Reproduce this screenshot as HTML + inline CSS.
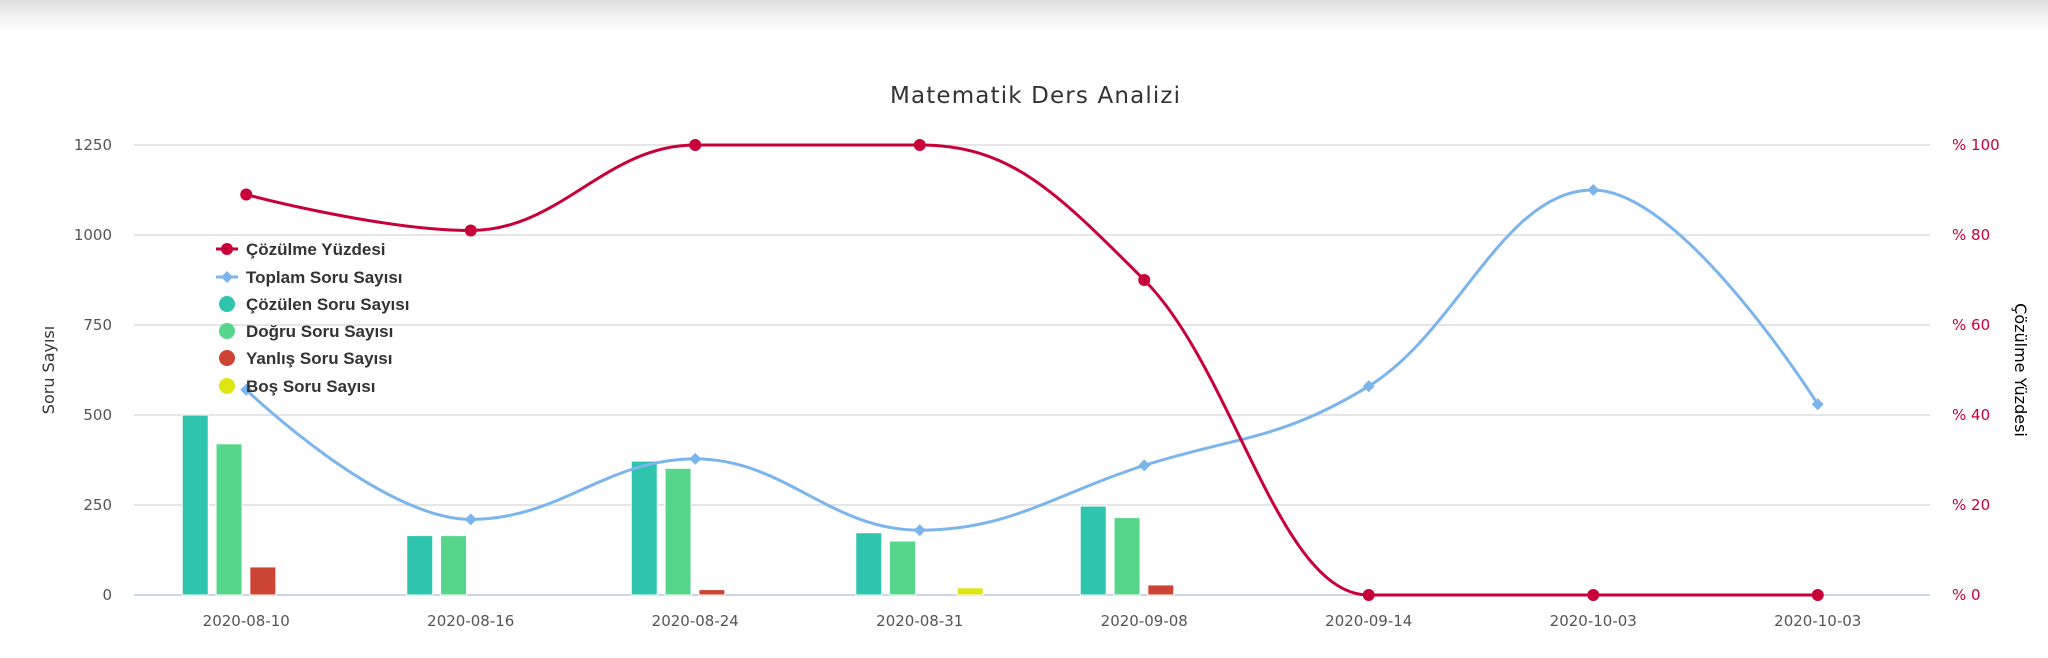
<!DOCTYPE html>
<html><head><meta charset="utf-8"><style>
html,body{margin:0;padding:0;background:#fff;width:2048px;height:658px;overflow:hidden}
.top{position:absolute;left:0;top:0;width:2048px;height:34px;background:linear-gradient(#dcdcdc,#f2f2f2 45%,#fff)}
svg{position:absolute;left:0;top:0}
text{font-family:"DejaVu Sans","Liberation Sans",sans-serif}
</style></head><body>
<div class="top"></div>
<svg id="s" width="2048" height="658" xmlns="http://www.w3.org/2000/svg">
<text x="1035" y="103" text-anchor="middle" font-size="23" fill="#333" textLength="290">Matematik Ders Analizi</text>
<g id="grid" stroke="#e6e6e6" stroke-width="2"></g>
<g id="lbl"></g>
<text transform="translate(54,370) rotate(-90)" text-anchor="middle" font-size="16" fill="#333">Soru Sayısı</text>
<text transform="translate(2015,370) rotate(90)" text-anchor="middle" font-size="16" fill="#000">Çözülme Yüzdesi</text>
<g id="bars"></g>
<path id="blue" fill="none" stroke="#7cb5ec" stroke-width="3"/>
<g id="bm"></g>
<path id="red" fill="none" stroke="#c8003a" stroke-width="3"/>
<g id="rm"></g>
<g font-size="17" font-weight="bold" fill="#333" style="font-family:'Liberation Sans',sans-serif">
<line x1="216" y1="249" x2="238" y2="249" stroke="#c8003a" stroke-width="3"/><circle cx="227" cy="249" r="6" fill="#c8003a"/>
<text x="246" y="255" style="font-family:'Liberation Sans',sans-serif">Çözülme Yüzdesi</text>
<line x1="216" y1="277" x2="238" y2="277" stroke="#7cb5ec" stroke-width="3"/><path d="M227 271L233 277L227 283L221 277Z" fill="#7cb5ec"/>
<text x="246" y="283" style="font-family:'Liberation Sans',sans-serif">Toplam Soru Sayısı</text>
<circle cx="227" cy="304" r="8" fill="#2ec4ad"/><text x="246" y="310" style="font-family:'Liberation Sans',sans-serif">Çözülen Soru Sayısı</text>
<circle cx="227" cy="331" r="8" fill="#55d68b"/><text x="246" y="337" style="font-family:'Liberation Sans',sans-serif">Doğru Soru Sayısı</text>
<circle cx="227" cy="358" r="8" fill="#cc4433"/><text x="246" y="364" style="font-family:'Liberation Sans',sans-serif">Yanlış Soru Sayısı</text>
<circle cx="227" cy="386" r="8" fill="#dde510"/><text x="246" y="392" style="font-family:'Liberation Sans',sans-serif">Boş Soru Sayısı</text>
</g>
</svg>
<script>
var NS="http://www.w3.org/2000/svg";
function el(p,t,a,txt){var e=document.createElementNS(NS,t);for(var k in a)e.setAttribute(k,a[k]);if(txt!=null)e.textContent=txt;document.getElementById(p).appendChild(e);return e;}
var L=134,R=1930,Y0=595,cw=(R-L)/8;
function yv(v){return Y0-v*450/1250}
function yp(p){return Y0-p*4.5}
var pl=["% 0","% 20","% 40","% 60","% 80","% 100"];
for(var i=0;i<=5;i++){var y=Y0-i*90;
 el("grid","line",{x1:L,x2:R,y1:y,y2:y,stroke:i==0?"#ccd6eb":"#e6e6e6"});
 el("lbl","text",{x:112,y:y+5,"text-anchor":"end","font-size":"15",fill:"#555"},String(i*250));
 el("lbl","text",{x:1952,y:y+5,"font-size":"15",fill:"#c8003a"},pl[i]);}
var cats=["2020-08-10","2020-08-16","2020-08-24","2020-08-31","2020-09-08","2020-09-14","2020-10-03","2020-10-03"];
var cx=[];for(var i=0;i<8;i++){cx.push(L+cw*(i+.5));el("lbl","text",{x:cx[i],y:626,"text-anchor":"middle","font-size":"15",fill:"#555"},cats[i]);}
var bars=[[500,420,78,0],[165,165,0,0],[372,352,15,0],[173,150,0,20],[247,215,28,0],[0,0,0,0],[0,0,0,0],[0,0,0,0]];
var cols=["#2ec4ad","#55d68b","#cc4433","#dde510"];
for(var i=0;i<8;i++)for(var j=0;j<4;j++){var v=bars[i][j];if(!v)continue;var x=cx[i]-64+j*33.8;
 el("bars","rect",{x:x,y:yv(v),width:26,height:Y0-yv(v),fill:cols[j],stroke:"#fff","stroke-width":1});}
function spline(pts){var s=1.5,d="M"+pts[0][0]+" "+pts[0][1];
 for(var i=1;i<pts.length;i++){var p=pts[i-1],c=pts[i];
  function ctrl(k){
   var pp=pts[k-1],pc=pts[k],pn=pts[k+1];if(!pp||!pn)return [pc,pc];
   var lx=(s*pc[0]+pp[0])/(s+1),ly=(s*pc[1]+pp[1])/(s+1),rx=(s*pc[0]+pn[0])/(s+1),ry=(s*pc[1]+pn[1])/(s+1);
   var corr=0;if(rx!=lx)corr=((ry-ly)*(rx-pc[0]))/(rx-lx)+pc[1]-ry;ly+=corr;ry+=corr;
   if(ly>Math.max(pp[1],pc[1])){ly=Math.max(pp[1],pc[1]);ry=2*pc[1]-ly}else if(ly<Math.min(pp[1],pc[1])){ly=Math.min(pp[1],pc[1]);ry=2*pc[1]-ly}
   if(ry>Math.max(pn[1],pc[1])){ry=Math.max(pn[1],pc[1]);ly=2*pc[1]-ry}else if(ry<Math.min(pn[1],pc[1])){ry=Math.min(pn[1],pc[1]);ly=2*pc[1]-ry}
   return [[lx,ly],[rx,ry]];}
  var a=ctrl(i-1)[1],b=ctrl(i)[0];
  d+=" C"+a[0]+" "+a[1]+" "+b[0]+" "+b[1]+" "+c[0]+" "+c[1];}
 return d;}
var tot=[570,210,378,180,360,580,1125,530],pct=[89,81,100,100,70,0,0,0];
var bp=[],rp=[];for(var i=0;i<8;i++){bp.push([cx[i],yv(tot[i])]);rp.push([cx[i],yp(pct[i])]);}
document.getElementById("blue").setAttribute("d",spline(bp));
document.getElementById("red").setAttribute("d",spline(rp));
bp.forEach(function(p){el("bm","path",{d:"M"+p[0]+" "+(p[1]-6)+"L"+(p[0]+6)+" "+p[1]+"L"+p[0]+" "+(p[1]+6)+"L"+(p[0]-6)+" "+p[1]+"Z",fill:"#7cb5ec"})});
rp.forEach(function(p){el("rm","circle",{cx:p[0],cy:p[1],r:6,fill:"#c8003a"})});
</script>
</body></html>
